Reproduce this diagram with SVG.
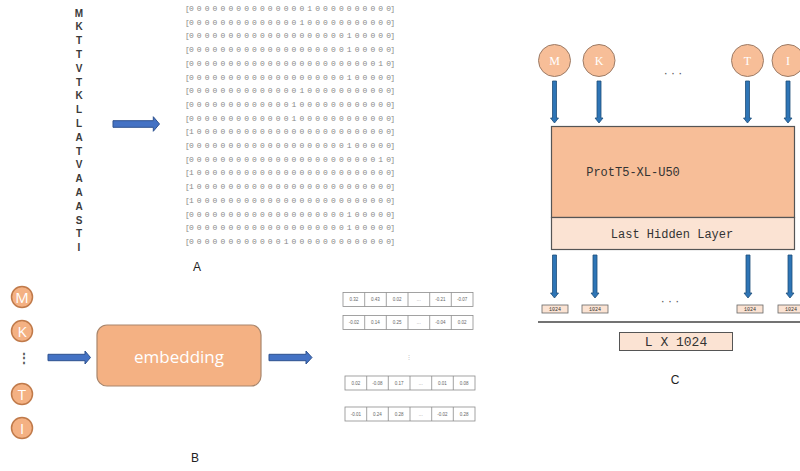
<svg xmlns="http://www.w3.org/2000/svg" width="800" height="471" viewBox="0 0 800 471">
<defs>
<style>
.bg{fill:#ffffff}
.aa{font-family:"Liberation Sans","Open Sans",sans-serif;font-size:10px;font-weight:bold;fill:#3a3a3a;text-anchor:middle}
.mx{font-family:"Liberation Mono","DejaVu Sans Mono",monospace;font-size:8px;fill:#8a8a8a}
.lbl{font-family:"Liberation Sans","Open Sans",sans-serif;font-size:12px;fill:#222;text-anchor:middle}
.blk{fill:#4472C4;stroke:#2F528F;stroke-width:1}
.dn{fill:#2E75B6;stroke:#1F4E79;stroke-width:0.8}
.cb{fill:#F4B183;stroke:#C07A4A;stroke-width:1.5}
.cbt{font-family:"Open Sans","Liberation Sans",sans-serif;font-size:15px;fill:#ffffff;text-anchor:middle}
.cc{fill:#F7BE98;stroke:#9C7B66;stroke-width:1}
.cct{font-family:"Liberation Serif",serif;font-size:12px;fill:#ffffff;text-anchor:middle}
.vec{fill:#ffffff;stroke:#8c8c8c;stroke-width:0.8}
.vt{font-family:"Liberation Sans",sans-serif;font-size:4.5px;fill:#666;text-anchor:middle}
.mono{font-family:"Liberation Mono","DejaVu Sans Mono",monospace;fill:#333;text-anchor:middle}
.dots{font-family:"Liberation Sans",sans-serif;font-size:12px;fill:#555;text-anchor:middle}
</style>
</defs>
<rect class="bg" x="0" y="0" width="800" height="471"/>

<!-- Part A -->
<g id="sequence">
<text class="aa" x="79" y="16.5">M</text>
<text class="aa" x="79" y="30.3">K</text>
<text class="aa" x="79" y="44.1">T</text>
<text class="aa" x="79" y="57.9">T</text>
<text class="aa" x="79" y="71.7">V</text>
<text class="aa" x="79" y="85.5">T</text>
<text class="aa" x="79" y="99.3">K</text>
<text class="aa" x="79" y="113.1">L</text>
<text class="aa" x="79" y="126.9">L</text>
<text class="aa" x="79" y="140.7">A</text>
<text class="aa" x="79" y="154.5">T</text>
<text class="aa" x="79" y="168.3">V</text>
<text class="aa" x="79" y="182.1">A</text>
<text class="aa" x="79" y="195.9">A</text>
<text class="aa" x="79" y="209.7">A</text>
<text class="aa" x="79" y="223.5">S</text>
<text class="aa" x="79" y="237.3">T</text>
<text class="aa" x="79" y="251.1">I</text>
</g>

<g id="onehot-matrix">
<text class="mx" x="185" y="11" textLength="210" lengthAdjust="spacing">[0 0 0 0 0 0 0 0 0 0 0 0 0 0 0 1 0 0 0 0 0 0 0 0 0 0]</text>
<text class="mx" x="185" y="24.7" textLength="210" lengthAdjust="spacing">[0 0 0 0 0 0 0 0 0 0 0 0 0 0 1 0 0 0 0 0 0 0 0 0 0 0]</text>
<text class="mx" x="185" y="38.4" textLength="210" lengthAdjust="spacing">[0 0 0 0 0 0 0 0 0 0 0 0 0 0 0 0 0 0 0 0 1 0 0 0 0 0]</text>
<text class="mx" x="185" y="52.1" textLength="210" lengthAdjust="spacing">[0 0 0 0 0 0 0 0 0 0 0 0 0 0 0 0 0 0 0 0 1 0 0 0 0 0]</text>
<text class="mx" x="185" y="65.8" textLength="210" lengthAdjust="spacing">[0 0 0 0 0 0 0 0 0 0 0 0 0 0 0 0 0 0 0 0 0 0 0 0 1 0]</text>
<text class="mx" x="185" y="79.5" textLength="210" lengthAdjust="spacing">[0 0 0 0 0 0 0 0 0 0 0 0 0 0 0 0 0 0 0 0 1 0 0 0 0 0]</text>
<text class="mx" x="185" y="93.2" textLength="210" lengthAdjust="spacing">[0 0 0 0 0 0 0 0 0 0 0 0 0 0 1 0 0 0 0 0 0 0 0 0 0 0]</text>
<text class="mx" x="185" y="106.9" textLength="210" lengthAdjust="spacing">[0 0 0 0 0 0 0 0 0 0 0 0 0 1 0 0 0 0 0 0 0 0 0 0 0 0]</text>
<text class="mx" x="185" y="120.6" textLength="210" lengthAdjust="spacing">[0 0 0 0 0 0 0 0 0 0 0 0 0 1 0 0 0 0 0 0 0 0 0 0 0 0]</text>
<text class="mx" x="185" y="134.3" textLength="210" lengthAdjust="spacing">[1 0 0 0 0 0 0 0 0 0 0 0 0 0 0 0 0 0 0 0 0 0 0 0 0 0]</text>
<text class="mx" x="185" y="148" textLength="210" lengthAdjust="spacing">[0 0 0 0 0 0 0 0 0 0 0 0 0 0 0 0 0 0 0 0 1 0 0 0 0 0]</text>
<text class="mx" x="185" y="161.7" textLength="210" lengthAdjust="spacing">[0 0 0 0 0 0 0 0 0 0 0 0 0 0 0 0 0 0 0 0 0 0 0 0 1 0]</text>
<text class="mx" x="185" y="175.4" textLength="210" lengthAdjust="spacing">[1 0 0 0 0 0 0 0 0 0 0 0 0 0 0 0 0 0 0 0 0 0 0 0 0 0]</text>
<text class="mx" x="185" y="189.1" textLength="210" lengthAdjust="spacing">[1 0 0 0 0 0 0 0 0 0 0 0 0 0 0 0 0 0 0 0 0 0 0 0 0 0]</text>
<text class="mx" x="185" y="202.8" textLength="210" lengthAdjust="spacing">[1 0 0 0 0 0 0 0 0 0 0 0 0 0 0 0 0 0 0 0 0 0 0 0 0 0]</text>
<text class="mx" x="185" y="216.5" textLength="210" lengthAdjust="spacing">[0 0 0 0 0 0 0 0 0 0 0 0 0 0 0 0 0 0 0 0 1 0 0 0 0 0]</text>
<text class="mx" x="185" y="230.2" textLength="210" lengthAdjust="spacing">[0 0 0 0 0 0 0 0 0 0 0 0 0 0 0 0 0 0 0 0 1 0 0 0 0 0]</text>
<text class="mx" x="185" y="243.9" textLength="210" lengthAdjust="spacing">[0 0 0 0 0 0 0 0 0 0 0 0 1 0 0 0 0 0 0 0 0 0 0 0 0 0]</text>
</g>
<text class="lbl" x="197" y="271">A</text>

<!-- Part B -->
<g id="b-inputs">
<circle class="cb" cx="22" cy="297" r="10.5"/><text class="cbt" x="22" y="302.5">M</text>
<circle class="cb" cx="22" cy="331" r="10.5"/><text class="cbt" x="22" y="336.5">K</text>
<text class="dots" x="24" y="362" font-weight="bold">⋮</text>
<circle class="cb" cx="22" cy="394" r="10.5"/><text class="cbt" x="22" y="399.5">T</text>
<circle class="cb" cx="22" cy="428" r="10.5"/><text class="cbt" x="22" y="433.5">I</text>
</g>
<g id="embedding">
<rect x="97" y="325" width="164" height="61" rx="10" ry="10" fill="#F4B183" stroke="#A9866C" stroke-width="1.2"/>
<text x="179" y="362.5" font-family="'Open Sans','Liberation Sans',sans-serif" font-size="17" fill="#ffffff" text-anchor="middle">embedding</text>
</g>
<g id="b-vectors">
<g id="vec1">
<rect class="vec" x="343" y="292.5" width="130" height="14"/>
<path d="M364.7,292.5V306.5M386.3,292.5V306.5M408,292.5V306.5M429.7,292.5V306.5M451.3,292.5V306.5" stroke="#8c8c8c" stroke-width="0.8"/>
<text class="vt" x="353.8" y="301">0.32</text><text class="vt" x="375.5" y="301">0.43</text><text class="vt" x="397.2" y="301">0.02</text><text class="vt" x="418.8" y="301">…</text><text class="vt" x="440.5" y="301">-0.21</text><text class="vt" x="462.2" y="301">-0.07</text>
</g>
<g id="vec2">
<rect class="vec" x="343" y="315.5" width="130" height="14"/>
<path d="M364.7,315.5V329.5M386.3,315.5V329.5M408,315.5V329.5M429.7,315.5V329.5M451.3,315.5V329.5" stroke="#8c8c8c" stroke-width="0.8"/>
<text class="vt" x="353.8" y="324">-0.02</text><text class="vt" x="375.5" y="324">0.14</text><text class="vt" x="397.2" y="324">0.25</text><text class="vt" x="418.8" y="324">…</text><text class="vt" x="440.5" y="324">-0.04</text><text class="vt" x="462.2" y="324">0.02</text>
</g>
<text x="409" y="359" font-family="'Liberation Sans',sans-serif" font-size="6" fill="#bbb" text-anchor="middle">⋮</text>
<g id="vec3">
<rect class="vec" x="345" y="376" width="130" height="14"/>
<path d="M366.7,376V390M388.3,376V390M410,376V390M431.7,376V390M453.3,376V390" stroke="#8c8c8c" stroke-width="0.8"/>
<text class="vt" x="355.8" y="384.5">0.02</text><text class="vt" x="377.5" y="384.5">-0.08</text><text class="vt" x="399.2" y="384.5">0.17</text><text class="vt" x="420.8" y="384.5">…</text><text class="vt" x="442.5" y="384.5">0.01</text><text class="vt" x="464.2" y="384.5">0.08</text>
</g>
<g id="vec4">
<rect class="vec" x="345" y="407" width="130" height="14"/>
<path d="M366.7,407V421M388.3,407V421M410,407V421M431.7,407V421M453.3,407V421" stroke="#8c8c8c" stroke-width="0.8"/>
<text class="vt" x="355.8" y="415.5">-0.01</text><text class="vt" x="377.5" y="415.5">0.24</text><text class="vt" x="399.2" y="415.5">0.28</text><text class="vt" x="420.8" y="415.5">…</text><text class="vt" x="442.5" y="415.5">-0.02</text><text class="vt" x="464.2" y="415.5">0.28</text>
</g>
</g>
<text class="lbl" x="195" y="462">B</text>

<!-- Part C -->
<g id="c-inputs">
<circle class="cc" cx="554.5" cy="60.5" r="16"/><text class="cct" x="554.5" y="65">M</text>
<circle class="cc" cx="599" cy="60.5" r="16"/><text class="cct" x="599" y="65">K</text>
<text class="dots" x="673" y="77">· · ·</text>
<circle class="cc" cx="747.5" cy="60.5" r="16"/><text class="cct" x="747.5" y="65">T</text>
<circle class="cc" cx="788" cy="60.5" r="16"/><text class="cct" x="788" y="65">I</text>
</g>
<g id="prott5">
<rect x="551.5" y="126.5" width="243" height="91" fill="#F7BE98" stroke="#555" stroke-width="1.2"/>
<text class="mono" x="633" y="176" font-size="12">ProtT5-XL-U50</text>
</g>
<g id="last-hidden">
<rect x="551.5" y="217.5" width="243" height="32" fill="#FBE3D3" stroke="#555" stroke-width="1.2"/>
<text class="mono" x="672" y="237.5" font-size="12">Last Hidden Layer</text>
</g>
<g id="c-outputs">
<rect x="542" y="305" width="26" height="8" fill="#FBE3D3" stroke="#666" stroke-width="0.8"/><text class="mono" x="555" y="311" font-size="5">1024</text>
<rect x="582" y="305" width="26" height="8" fill="#FBE3D3" stroke="#666" stroke-width="0.8"/><text class="mono" x="595" y="311" font-size="5">1024</text>
<text class="dots" x="670" y="305">· · ·</text>
<rect x="737" y="305" width="26" height="8" fill="#FBE3D3" stroke="#666" stroke-width="0.8"/><text class="mono" x="750" y="311" font-size="5">1024</text>
<rect x="778" y="305" width="26" height="8" fill="#FBE3D3" stroke="#666" stroke-width="0.8"/><text class="mono" x="791" y="311" font-size="5">1024</text>
</g>
<line x1="538" y1="322" x2="800" y2="322" stroke="#444" stroke-width="1.3"/>
<g id="result">
<rect x="619.5" y="332.5" width="113" height="18" fill="#FBE3D3" stroke="#555" stroke-width="1"/>
<text class="mono" x="676" y="346" font-size="13">L X 1024</text>
</g>
<text class="lbl" x="675" y="384">C</text>

<!-- Connectors -->
<g id="connectors">
<path class="blk" d="M113,120.7H153.3V116.7L159.5,124L153.3,131.3V127.3H113Z"/>
<path class="blk" d="M48,354.3H85V351L90.5,357.5L85,364V360.7H48Z"/>
<path class="blk" d="M269,354.3H306V351L312,357.5L306,364V360.7H269Z"/>
<path class="dn" d="M552.5,81V118H550.5L554.5,123L558.5,118H556.5V81Z"/>
<path class="dn" d="M597,81V118H595L599,123L603,118H601V81Z"/>
<path class="dn" d="M745.5,81V118H743.5L747.5,123L751.5,118H749.5V81Z"/>
<path class="dn" d="M786,81V118H784L788,123L792,118H790V81Z"/>
<path class="dn" d="M552.5,255V293H550.5L554.5,298L558.5,293H556.5V255Z"/>
<path class="dn" d="M593,255V293H591L595,298L599,293H597V255Z"/>
<path class="dn" d="M746,255V293H744L748,298L752,293H750V255Z"/>
<path class="dn" d="M788,255V293H786L790,298L794,293H792V255Z"/>
</g>
</svg>
